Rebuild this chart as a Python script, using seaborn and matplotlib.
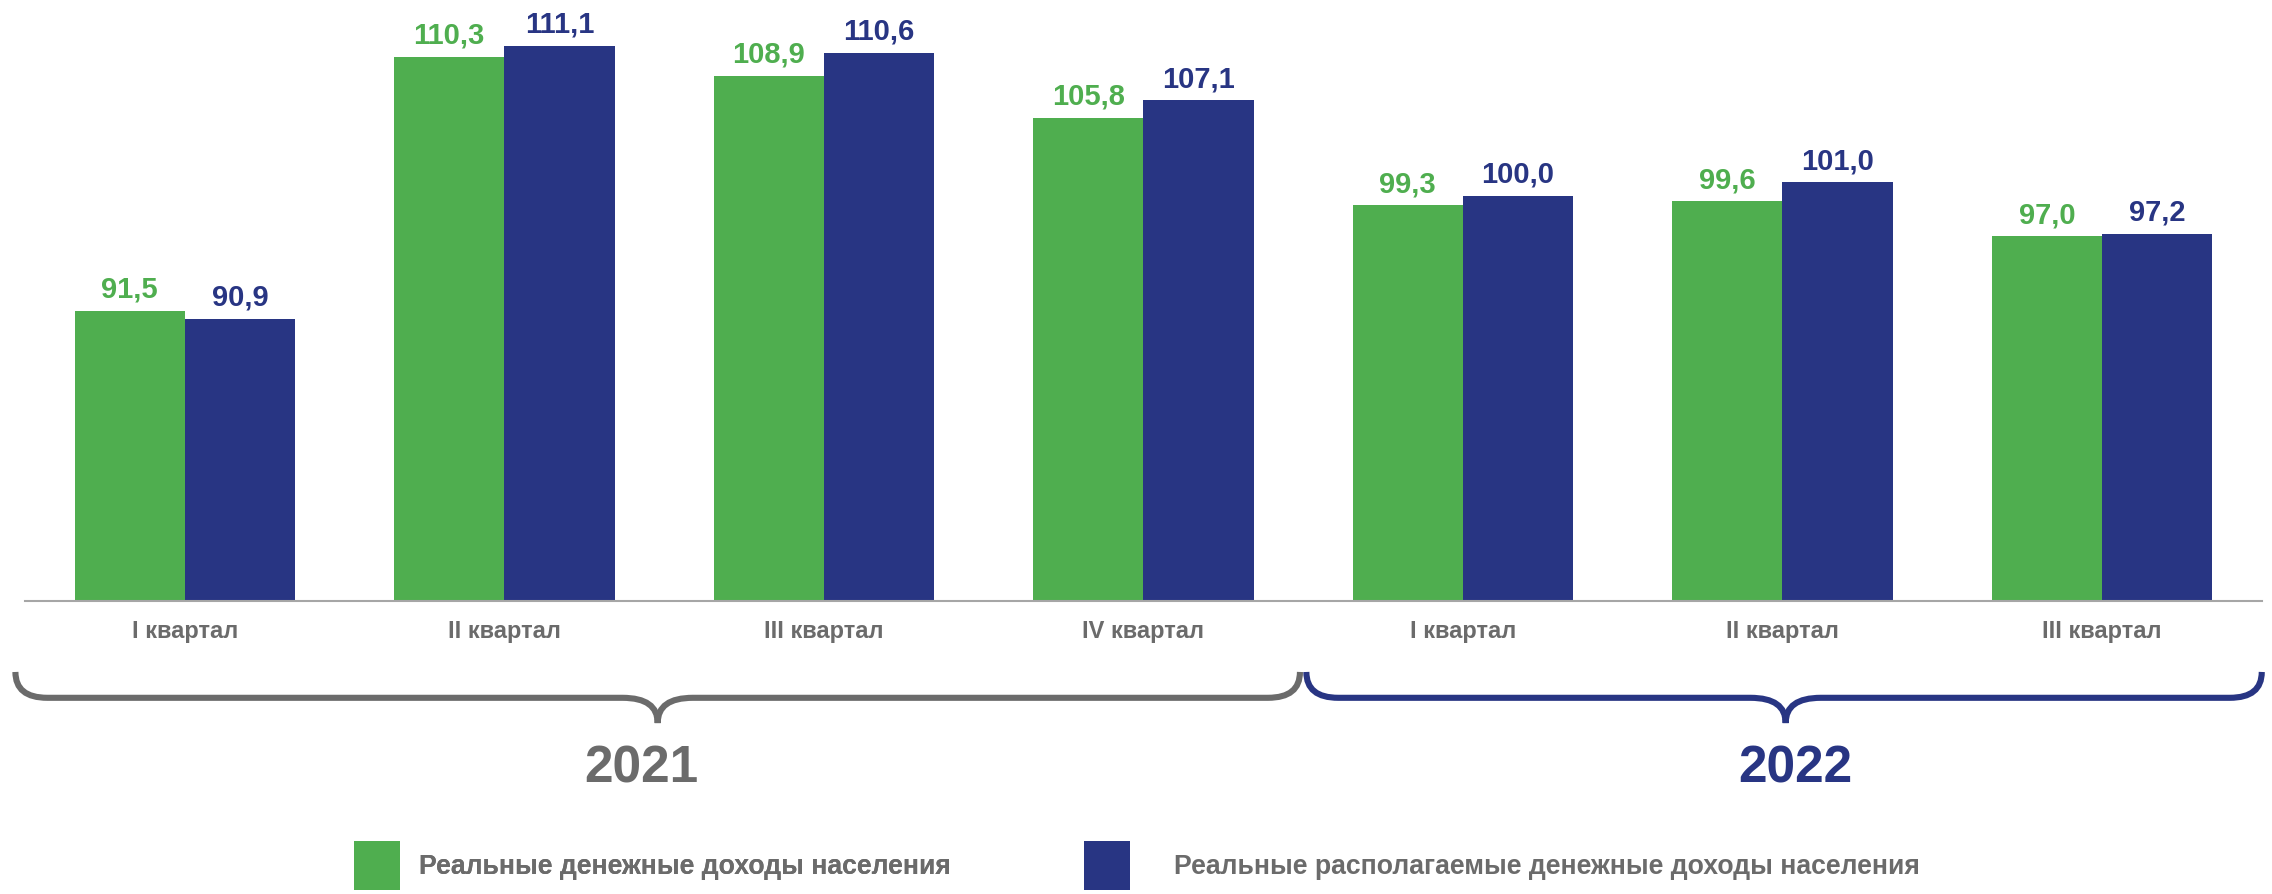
import matplotlib
matplotlib.use('Agg')
import matplotlib.pyplot as plt
from matplotlib.path import Path
from matplotlib.patches import PathPatch
import matplotlib.transforms as mtransforms
import seaborn as sns
import pandas as pd
import numpy as np

sns.set_theme(style='white')
plt.rcParams['font.family'] = ['Liberation Sans', 'DejaVu Sans']
plt.rcParams['font.weight'] = 'bold'

# данные
periods = ['2021 I', '2021 II', '2021 III', '2021 IV', '2022 I', '2022 II', '2022 III']
quarter_labels = ['I квартал', 'II квартал', 'III квартал', 'IV квартал',
                  'I квартал', 'II квартал', 'III квартал']
series_names = ['Реальные денежные доходы населения',
                'Реальные располагаемые денежные доходы населения']
real_income = [91.5, 110.3, 108.9, 105.8, 99.3, 99.6, 97.0]
disposable_income = [90.9, 111.1, 110.6, 107.1, 100.0, 101.0, 97.2]
years = ['2021', '2022']

GREEN = '#4fae4f'
NAVY = '#283583'
GRAY = '#6b6b6b'
AXIS_GRAY = '#a6a6a6'

df = pd.DataFrame({
    'period': periods * 2,
    'series': [series_names[0]] * len(periods) + [series_names[1]] * len(periods),
    'value': real_income + disposable_income,
})

fig = plt.figure(figsize=(22.72, 8.94), dpi=100)
ax = fig.add_axes([0.011, 0.3277, 0.9845, 0.6723])

sns.barplot(data=df, x='period', y='value', hue='series', order=periods,
            hue_order=series_names, palette=[GREEN, NAVY], saturation=1,
            width=0.69, linewidth=0, ax=ax)

ax.set_ylim(70, 114.5)
ax.set_xlim(-0.5, 6.5)
ax.set_xlabel('')
ax.set_ylabel('')
ax.set_yticks([])
for s in ['top', 'right', 'left']:
    ax.spines[s].set_visible(False)
ax.spines['bottom'].set_color(AXIS_GRAY)
ax.spines['bottom'].set_linewidth(1.5)

ax.set_xticks(range(len(periods)))
ax.set_xticklabels(quarter_labels, fontsize=17, color=GRAY, fontweight='bold')
ax.set_xticks(np.arange(-0.5, len(periods), 1.0), minor=True)
ax.tick_params(axis='x', which='major', length=0, pad=14)
ax.tick_params(axis='x', which='minor', length=5, width=1.2, color=AXIS_GRAY)

# подписи значений
for cont, col in zip(ax.containers, [GREEN, NAVY]):
    labels = [f'{b.get_height():.1f}'.replace('.', ',') for b in cont]
    ax.bar_label(cont, labels=labels, padding=5, fontsize=21,
                 fontweight='bold', color=col)

# фигурные скобки
trans = mtransforms.blended_transform_factory(ax.transData, ax.transAxes)


def brace(x0, x1, xc, color):
    yt, yh, ytip = -0.118, -0.161, -0.203
    r, c = 0.10, 0.11
    verts = [(x0, yt), (x0, yh), (x0 + r, yh),
             (xc - c, yh), (xc, yh), (xc, ytip),
             (xc, yh), (xc + c, yh),
             (x1 - r, yh), (x1, yh), (x1, yt)]
    codes = [Path.MOVETO, Path.CURVE3, Path.CURVE3,
             Path.LINETO, Path.CURVE3, Path.CURVE3,
             Path.CURVE3, Path.CURVE3,
             Path.LINETO, Path.CURVE3, Path.CURVE3]
    patch = PathPatch(Path(verts, codes), facecolor='none', edgecolor=color,
                      linewidth=4.4, transform=trans, clip_on=False,
                      capstyle='butt')
    ax.add_patch(patch)


brace(-0.53, 3.49, 1.48, GRAY)
brace(3.51, 6.5, 5.01, NAVY)

ax.text(1.43, -0.279, years[0], transform=trans, ha='center', va='center',
        fontsize=37, fontweight='bold', color=GRAY)
ax.text(5.04, -0.279, years[1], transform=trans, ha='center', va='center',
        fontsize=37, fontweight='bold', color=NAVY)

# легенда
handles, labels = ax.get_legend_handles_labels()
if ax.get_legend() is not None:
    ax.get_legend().remove()
leg_args = dict(loc='lower left', frameon=False, fontsize=19.2, handlelength=1.72,
                handleheight=2.45, borderpad=0, borderaxespad=0)
leg1 = fig.legend(handles[:1], labels[:1], bbox_to_anchor=(0.156, 0.004),
                  handletextpad=0.7, **leg_args)
leg2 = fig.legend(handles[1:], labels[1:], bbox_to_anchor=(0.477, 0.004),
                  handletextpad=1.67, **leg_args)
fig.add_artist(leg1)
for leg in (leg1, leg2):
    for t in leg.get_texts():
        t.set_color(GRAY)
        t.set_fontweight('bold')

plt.savefig('out.png', dpi=100)
plt.close()
